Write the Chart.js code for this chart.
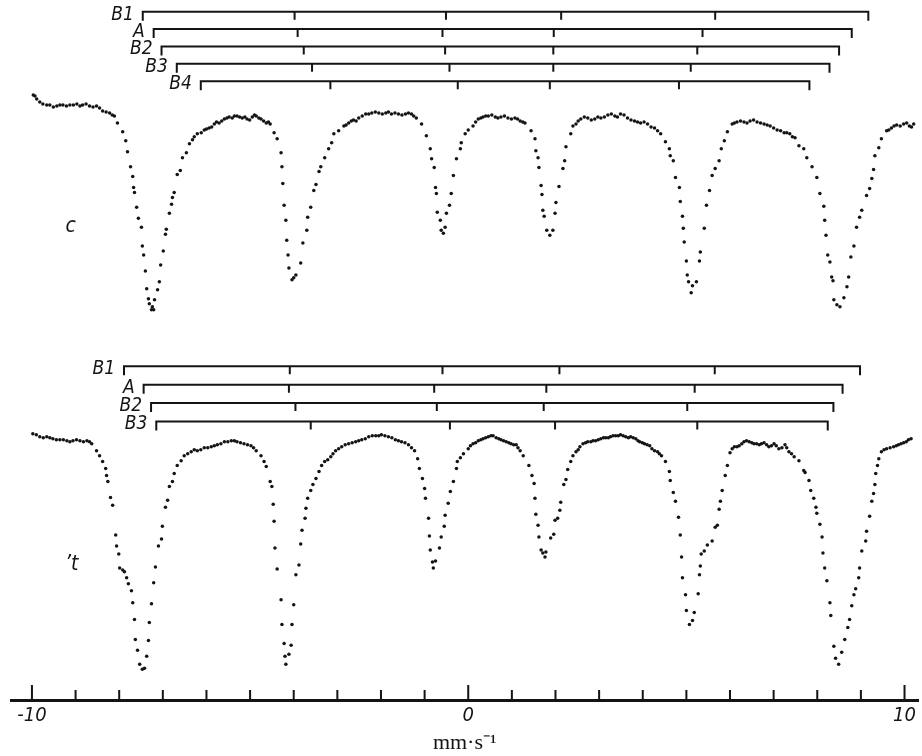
<!DOCTYPE html>
<html lang="en">
<head>
    <meta charset="UTF-8">
    <title>Mössbauer spectra c and t</title>
    <script src="https://cdn.jsdelivr.net/npm/chart.js"></script>
    <style>
        body { margin: 0; background: #fff; }
    </style>
</head>
<body>
    <canvas id="spectra" width="922" height="756"></canvas>
    <script>
// velocity axis, mm/s
const tickValues = [-10, -9, -8, -7, -6, -5, -4, -3, -2, -1, 0, 1, 2, 3, 4, 5, 6, 7, 8, 9, 10];
const labelledTicks = [-10, 0, 10];

// spectrum c: [velocity mm/s, relative transmission %]
const spectrumC = [
    [-9.93,100.5],[-9.89,100.2],[-9.82,99.9],[-9.75,99.7],[-9.59,99.6],[-9.43,99.5],[-9.29,99.6],
    [-9.13,99.6],[-8.97,99.7],[-8.84,99.6],[-8.68,99.5],[-8.52,99.5],[-8.45,99.3],[-8.38,99.0],
    [-8.22,98.8],[-8.11,98.5],[-8.04,97.8],[-7.92,96.9],[-7.85,96.0],[-7.81,94.9],[-7.74,93.4],
    [-7.69,92.4],[-7.67,91.3],[-7.65,90.8],[-7.60,89.3],[-7.56,88.2],[-7.49,87.3],[-7.47,85.4],
    [-7.44,84.5],[-7.40,82.9],[-7.37,81.1],[-7.33,80.1],[-7.31,79.6],[-7.26,79.0],[-7.24,79.3],
    [-7.21,79.0],[-7.19,80.0],[-7.12,81.0],[-7.08,81.8],[-7.05,83.5],[-6.99,84.9],[-6.94,86.6],
    [-6.92,87.1],[-6.85,88.7],[-6.80,89.6],[-6.78,90.3],[-6.74,90.8],[-6.67,92.6],[-6.60,93.0],
    [-6.55,94.3],[-6.46,94.8],[-6.39,95.7],[-6.32,96.1],[-6.28,96.4],[-6.21,96.7],[-6.12,96.8],
    [-6.05,97.1],[-5.94,97.3],[-5.82,97.7],[-5.71,97.8],[-5.59,98.2],[-5.48,98.4],[-5.41,98.3],
    [-5.30,98.5],[-5.18,98.3],[-5.07,98.2],[-4.95,98.4],[-4.86,98.5],[-4.75,98.2],[-4.63,97.8],
    [-4.54,97.7],[-4.45,96.8],[-4.38,96.2],[-4.29,94.8],[-4.27,93.4],[-4.25,91.7],[-4.22,89.5],
    [-4.18,88.0],[-4.16,86.0],[-4.13,84.5],[-4.11,83.2],[-4.04,82.0],[-4.00,82.2],[-3.95,82.5],
    [-3.84,83.7],[-3.79,85.7],[-3.70,87.0],[-3.68,88.3],[-3.61,89.3],[-3.54,91.0],[-3.49,91.6],
    [-3.42,92.9],[-3.38,93.4],[-3.29,94.3],[-3.20,95.2],[-3.13,95.8],[-3.08,96.7],[-2.97,97.0],
    [-2.85,97.5],[-2.74,97.8],[-2.63,98.1],[-2.51,98.3],[-2.35,98.7],[-2.21,98.8],[-2.05,98.8],
    [-1.89,98.8],[-1.76,98.7],[-1.60,98.7],[-1.44,98.7],[-1.30,98.7],[-1.19,98.3],[-1.07,97.7],
    [-0.96,96.5],[-0.87,95.2],[-0.84,94.2],[-0.78,93.3],[-0.75,91.3],[-0.73,90.7],[-0.71,88.8],
    [-0.64,88.0],[-0.62,87.0],[-0.57,86.7],[-0.53,87.3],[-0.50,88.7],[-0.43,89.5],[-0.39,90.7],
    [-0.34,92.5],[-0.27,94.2],[-0.18,95.2],[-0.16,95.8],[-0.07,96.7],[0.00,97.1],[0.11,97.5],
    [0.23,98.2],[0.34,98.4],[0.46,98.5],[0.62,98.4],[0.75,98.4],[0.91,98.3],[1.07,98.3],
    [1.19,98.0],[1.30,97.8],[1.44,97.0],[1.53,96.2],[1.55,95.0],[1.60,94.3],[1.62,93.3],
    [1.67,91.5],[1.69,90.6],[1.71,89.0],[1.74,88.4],[1.80,87.0],[1.87,86.5],[1.94,87.0],
    [1.99,88.7],[2.01,89.8],[2.08,91.4],[2.17,93.2],[2.21,94.0],[2.24,95.4],[2.35,96.7],
    [2.40,97.5],[2.47,97.7],[2.58,98.2],[2.74,98.3],[2.90,98.2],[3.04,98.3],[3.20,98.6],
    [3.36,98.5],[3.49,98.7],[3.65,98.3],[3.81,98.0],[3.95,97.8],[4.11,97.7],[4.27,97.3],
    [4.34,97.0],[4.41,96.7],[4.52,95.9],[4.61,95.2],[4.63,94.5],[4.70,94.0],[4.75,92.3],
    [4.84,91.3],[4.86,89.9],[4.91,88.4],[4.93,87.2],[4.95,85.8],[5.00,83.9],[5.02,82.5],
    [5.05,81.8],[5.14,81.4],[5.11,80.7],[5.23,81.8],[5.30,83.9],[5.32,84.8],[5.41,87.2],
    [5.46,89.5],[5.53,91.0],[5.59,92.5],[5.66,93.2],[5.75,94.0],[5.80,95.2],[5.87,96.0],
    [5.94,96.9],[6.05,97.7],[6.16,97.9],[6.32,97.9],[6.46,98.0],[6.62,97.9],[6.78,97.7],
    [6.92,97.5],[7.08,97.1],[7.24,96.8],[7.37,96.7],[7.49,96.3],[7.58,95.5],[7.69,95.2],
    [7.76,94.3],[7.88,93.4],[7.99,92.3],[8.06,90.7],[8.15,89.4],[8.17,88.0],[8.20,86.5],
    [8.24,84.5],[8.29,83.8],[8.33,82.3],[8.36,81.9],[8.38,80.0],[8.45,79.5],[8.52,79.3],
    [8.61,80.2],[8.68,81.3],[8.72,82.3],[8.77,84.3],[8.84,85.4],[8.90,87.3],[8.97,88.3],
    [9.02,89.0],[9.13,90.5],[9.20,91.2],[9.25,92.2],[9.29,93.1],[9.32,94.5],[9.41,95.3],
    [9.47,96.2],[9.59,97.0],[9.70,97.3],[9.82,97.6],[9.98,97.7],[10.11,97.5],[10.21,97.7],
    // extra plateau readings
    [-9.97,100.6],[-9.66,99.6],[-9.51,99.4],[-9.36,99.6],[-9.21,99.5],[-9.05,99.6],[-8.90,99.5],
    [-8.76,99.7],[-8.60,99.4],[-8.30,98.9],[-8.16,98.6],
    [-6.00,97.2],[-5.88,97.4],[-5.77,97.9],[-5.65,98.0],[-5.53,98.3],[-5.36,98.5],[-5.24,98.4],
    [-5.12,98.4],[-5.01,98.1],[-4.90,98.6],[-4.80,98.3],[-4.69,98.0],[-4.58,97.9],
    [-2.80,97.6],[-2.68,98.0],[-2.57,98.0],[-2.43,98.5],[-2.28,98.7],[-2.13,98.9],[-1.97,98.7],
    [-1.83,98.9],[-1.68,98.8],[-1.52,98.6],[-1.37,98.8],[-1.25,98.5],
    [0.17,97.9],[0.29,98.3],[0.40,98.5],[0.54,98.6],[0.68,98.3],[0.83,98.5],[0.99,98.2],
    [1.13,98.2],[1.25,97.9],
    [2.52,98.0],[2.66,98.4],[2.82,98.1],[2.97,98.4],[3.12,98.4],[3.28,98.7],[3.42,98.4],
    [3.57,98.6],[3.73,98.1],[3.88,97.9],[4.03,97.9],[4.19,97.4],
    [6.10,97.8],[6.24,98.0],[6.39,97.8],[6.54,98.1],[6.70,97.8],[6.85,97.6],[7.00,97.3],
    [7.16,97.0],[7.30,96.8],[7.43,96.4],
    [9.64,97.1],[9.76,97.5],[9.90,97.5],[10.05,97.8],[10.16,97.4]
];

// spectrum t: [velocity mm/s, relative transmission %]
const spectrumT = [
    [-9.98,100.0],[-9.82,99.7],[-9.66,99.7],[-9.52,99.5],[-9.36,99.4],[-9.20,99.3],[-9.06,99.3],
    [-8.90,99.3],[-8.74,99.3],[-8.63,99.0],[-8.52,98.3],[-8.45,97.8],[-8.38,97.2],[-8.31,96.5],
    [-8.29,95.8],[-8.26,95.2],[-8.20,93.6],[-8.15,92.8],[-8.08,89.8],[-8.06,88.7],[-8.01,87.9],
    [-7.99,86.5],[-7.92,86.3],[-7.88,86.1],[-7.83,85.5],[-7.79,84.9],[-7.72,84.2],[-7.69,83.0],
    [-7.65,81.3],[-7.63,79.3],[-7.58,78.2],[-7.53,76.8],[-7.47,76.3],[-7.42,76.4],[-7.37,77.6],
    [-7.33,79.2],[-7.31,81.0],[-7.26,82.9],[-7.21,85.0],[-7.17,86.6],[-7.10,88.7],[-7.03,89.4],
    [-7.01,90.7],[-6.94,92.6],[-6.89,93.3],[-6.85,94.7],[-6.78,95.2],[-6.74,96.0],[-6.67,96.8],
    [-6.58,97.3],[-6.51,97.8],[-6.35,98.2],[-6.21,98.3],[-6.05,98.6],[-5.89,98.7],[-5.75,98.9],
    [-5.59,99.2],[-5.43,99.3],[-5.30,99.2],[-5.14,99.0],[-4.98,98.8],[-4.86,98.3],[-4.75,97.8],
    [-4.68,97.2],[-4.63,96.7],[-4.54,95.2],[-4.50,94.7],[-4.47,92.9],[-4.45,91.2],[-4.43,88.5],
    [-4.38,86.4],[-4.29,83.3],[-4.27,80.8],[-4.22,78.9],[-4.20,77.6],[-4.18,76.8],[-4.11,77.8],
    [-4.06,78.7],[-4.04,80.8],[-4.00,82.8],[-3.95,85.8],[-3.88,86.8],[-3.84,88.9],[-3.81,90.3],
    [-3.74,91.5],[-3.72,92.5],[-3.68,93.5],[-3.61,94.3],[-3.56,94.9],[-3.49,95.5],[-3.42,96.2],
    [-3.36,96.8],[-3.29,97.2],[-3.15,97.7],[-3.04,98.3],[-2.90,98.7],[-2.74,99.0],[-2.58,99.2],
    [-2.44,99.4],[-2.28,99.7],[-2.12,99.8],[-1.99,99.9],[-1.83,99.7],[-1.67,99.4],[-1.53,99.2],
    [-1.37,98.9],[-1.23,98.3],[-1.16,97.5],[-1.12,96.5],[-1.05,95.5],[-1.00,94.5],[-0.98,93.5],
    [-0.91,91.5],[-0.89,89.7],[-0.87,88.3],[-0.82,87.1],[-0.80,86.5],[-0.75,87.2],[-0.66,88.5],
    [-0.62,89.6],[-0.55,90.7],[-0.53,91.8],[-0.46,93.0],[-0.41,94.2],[-0.34,95.2],[-0.27,96.5],
    [-0.25,97.2],[-0.18,97.6],[-0.11,98.0],[0.00,98.5],[0.11,99.0],[0.23,99.3],[0.34,99.5],
    [0.46,99.7],[0.57,99.8],[0.64,99.6],[0.75,99.4],[0.87,99.2],[0.98,99.0],[1.10,98.9],
    [1.19,98.3],[1.26,97.8],[1.39,96.8],[1.46,95.8],[1.51,95.0],[1.53,93.5],[1.55,91.9],
    [1.60,90.8],[1.62,89.6],[1.67,88.3],[1.71,88.0],[1.76,87.6],[1.78,88.1],[1.89,89.5],
    [1.96,89.9],[1.99,91.3],[2.05,91.5],[2.10,92.3],[2.12,93.1],[2.19,94.9],[2.24,95.4],
    [2.28,96.4],[2.35,97.2],[2.40,97.8],[2.47,98.2],[2.56,98.7],[2.63,99.0],[2.74,99.2],
    [2.81,99.2],[2.92,99.3],[3.04,99.5],[3.15,99.6],[3.26,99.7],[3.38,99.8],[3.49,99.9],
    [3.61,99.7],[3.72,99.7],[3.84,99.5],[3.93,99.2],[4.04,99.0],[4.16,98.8],[4.27,98.3],
    [4.34,98.2],[4.43,97.8],[4.52,97.2],[4.61,96.2],[4.63,95.3],[4.70,94.1],[4.75,93.2],
    [4.82,91.6],[4.86,89.8],[4.89,87.6],[4.91,85.5],[4.98,83.8],[5.00,82.2],[5.07,80.8],
    [5.14,81.2],[5.18,82.0],[5.27,83.9],[5.30,85.8],[5.32,86.7],[5.34,87.9],[5.41,88.2],
    [5.48,88.8],[5.59,89.2],[5.66,90.6],[5.71,90.8],[5.75,92.4],[5.78,93.2],[5.82,94.3],
    [5.89,95.8],[5.94,96.8],[6.00,98.1],[6.10,98.7],[6.21,98.8],[6.32,99.2],[6.44,99.2],
    [6.55,99.0],[6.67,98.9],[6.78,99.1],[6.89,98.7],[7.01,99.0],[7.12,98.5],[7.26,98.9],
    [7.35,98.2],[7.47,97.7],[7.58,97.3],[7.69,96.3],[7.72,96.1],[7.81,95.3],[7.85,94.3],
    [7.92,93.5],[7.97,92.6],[7.99,92.0],[8.06,90.9],[8.11,89.6],[8.13,88.0],[8.17,86.5],
    [8.22,85.2],[8.29,83.0],[8.31,81.7],[8.38,78.6],[8.42,77.4],[8.49,76.8],[8.56,78.0],
    [8.63,79.3],[8.70,80.5],[8.74,81.3],[8.79,82.7],[8.84,83.8],[8.88,84.4],[8.95,85.5],
    [8.97,86.5],[9.02,88.2],[9.11,89.2],[9.13,90.2],[9.20,91.7],[9.25,93.2],[9.29,94.0],
    [9.32,94.9],[9.34,96.0],[9.38,96.8],[9.41,97.5],[9.47,98.2],[9.59,98.5],[9.75,98.7],
    [9.86,98.9],[9.98,99.1],[10.09,99.4],
    // extra plateau readings
    [-9.90,99.9],[-9.74,99.6],[-9.59,99.6],[-9.44,99.4],[-9.28,99.4],[-9.13,99.2],[-8.98,99.4],
    [-8.82,99.2],[-8.68,99.2],
    [-6.43,98.0],[-6.28,98.4],[-6.13,98.4],[-5.97,98.6],[-5.82,98.8],[-5.67,99.0],[-5.51,99.2],
    [-5.36,99.3],[-5.22,99.1],[-5.06,98.9],[-4.92,98.6],
    [-3.22,97.4],[-3.10,98.0],[-2.97,98.5],[-2.82,98.9],[-2.66,99.1],[-2.51,99.3],[-2.36,99.5],
    [-2.20,99.8],[-2.05,99.8],[-1.91,99.8],[-1.75,99.6],[-1.60,99.3],[-1.45,99.1],[-1.30,98.6],
    [0.05,98.8],[0.17,99.1],[0.29,99.4],[0.40,99.6],[0.52,99.8],[0.70,99.5],[0.81,99.3],
    [0.93,99.1],[1.04,98.9],[1.14,98.6],
    [2.52,98.4],[2.69,99.1],[2.86,99.3],[2.98,99.4],[3.10,99.6],[3.21,99.6],[3.32,99.8],
    [3.44,99.8],[3.55,99.8],[3.67,99.6],[3.78,99.6],[3.89,99.3],[3.99,99.1],[4.10,98.9],
    [4.21,98.5],[4.38,98.0],
    [6.05,98.5],[6.16,98.7],[6.27,99.0],[6.38,99.3],[6.50,99.1],[6.61,99.0],[6.72,99.0],
    [6.84,98.9],[6.95,98.8],[7.06,98.8],[7.19,98.6],[7.30,98.6],[7.41,98.0],
    [9.53,98.4],[9.67,98.6],[9.81,98.8],[9.92,99.0],[10.04,99.2],[10.15,99.5]
];

// line positions (mm/s) of the sextets fitted to c
const stickNamesC = ['B1', 'A', 'B2', 'B3', 'B4'];
const sticksC = [
    [-7.46, -3.98, -0.51, 2.13, 5.66, 9.17],
    [-7.21, -3.91, -0.59, 1.96, 5.37, 8.79],
    [-7.03, -3.77, -0.53, 1.95, 5.25, 8.50],
    [-6.68, -3.58, -0.43, 1.95, 5.10, 8.28],
    [-6.13, -3.16, -0.24, 1.87, 4.83, 7.82]
];

// line positions (mm/s) of the sextets fitted to t
const stickNamesT = ['B1', 'A', 'B2', 'B3'];
const sticksT = [
    [-7.89, -4.09, -0.59, 2.09, 5.65, 8.98],
    [-7.44, -4.11, -0.78, 1.79, 5.19, 8.58],
    [-7.27, -3.96, -0.72, 1.73, 5.02, 8.37],
    [-7.15, -3.61, -0.42, 1.99, 5.25, 8.24]
];

const spectrumLabels = ['c', '\u2019t'];

const ink = '#141414';
const italicFont = "'DejaVu Sans Condensed', 'DejaVu Sans', sans-serif";

// stick diagrams + spectrum letters, placed through the scales
const sticksPlugin = {
    id: 'sticks',
    afterDatasetsDraw(chart) {
        const { ctx, scales } = chart;
        const x = scales.x;
        const blocks = [
            { axis: 'yC', names: stickNamesC, rows: sticksC, top: 109, step: 1.75 },
            { axis: 'yT', names: stickNamesT, rows: sticksT, top: 106.8, step: 1.85 }
        ];
        ctx.save();
        ctx.strokeStyle = ink;
        ctx.fillStyle = ink;
        ctx.lineWidth = 2;
        ctx.font = 'italic 19px ' + italicFont;
        ctx.textAlign = 'right';
        ctx.textBaseline = 'middle';
        blocks.forEach(b => {
            const ys = scales[b.axis];
            b.rows.forEach((row, i) => {
                const yy = ys.getPixelForValue(b.top - i * b.step);
                const px = row.map(v => x.getPixelForValue(v));
                ctx.beginPath();
                ctx.moveTo(px[0], yy + 9);
                ctx.lineTo(px[0], yy);
                ctx.lineTo(px[5], yy);
                ctx.lineTo(px[5], yy + 9);
                for (let k = 1; k < 5; k++) {
                    ctx.moveTo(px[k], yy);
                    ctx.lineTo(px[k], yy + 8);
                }
                ctx.stroke();
                ctx.fillText(b.names[i], px[0] - 9, yy + 3);
            });
        });
        // spectrum letters
        ctx.font = 'italic 21px ' + italicFont;
        ctx.textAlign = 'center';
        ctx.fillText(spectrumLabels[0], x.getPixelForValue(-9.11), scales.yC.getPixelForValue(87.4));
        ctx.fillText(spectrumLabels[1], x.getPixelForValue(-9.09), scales.yT.getPixelForValue(86.8));

        // velocity ticks pointing up from the axis
        const base = x.top;
        ctx.lineWidth = 2;
        ctx.beginPath();
        tickValues.forEach(v => {
            const px = x.getPixelForValue(v);
            const len = labelledTicks.includes(v) ? 15 : 10;
            ctx.moveTo(px, base);
            ctx.lineTo(px, base - len);
        });
        ctx.stroke();
        ctx.restore();
    }
};

const dotStyle = {
    showLine: false,
    pointRadius: 1.75,
    pointHoverRadius: 1.75,
    pointBorderWidth: 0,
    pointBackgroundColor: ink
};

new Chart(document.getElementById('spectra').getContext('2d'), {
    type: 'scatter',
    data: {
        datasets: [
            Object.assign({ label: 'c', yAxisID: 'yC', data: spectrumC.map(p => ({ x: p[0], y: p[1] })) }, dotStyle),
            Object.assign({ label: 't', yAxisID: 'yT', data: spectrumT.map(p => ({ x: p[0], y: p[1] })) }, dotStyle)
        ]
    },
    options: {
        responsive: false,
        animation: false,
        devicePixelRatio: 1,
        layout: { padding: { left: 11, right: 0, top: 0, bottom: 0 } },
        plugins: { legend: { display: false }, tooltip: { enabled: false } },
        scales: {
            x: {
                type: 'linear',
                min: -10.48,
                max: 10.32,
                afterBuildTicks: s => { s.ticks = tickValues.map(v => ({ value: v })); },
                grid: { drawOnChartArea: false, drawTicks: false },
                border: { display: true, color: ink, width: 3 },
                ticks: {
                    autoSkip: false,
                    maxRotation: 0,
                    padding: 6,
                    color: ink,
                    font: { family: italicFont, size: 20, style: 'italic', lineHeight: 1 },
                    callback: v => labelledTicks.includes(v) ? (v < 0 ? '-' + Math.abs(v) : String(v)) : ''
                },
                title: {
                    display: true,
                    text: 'mm\u00b7s\u207b\u00b9',
                    color: ink,
                    padding: { top: 0, bottom: 2 },
                    font: { family: "'Liberation Serif', serif", size: 22, lineHeight: 1 }
                }
            },
            yC: { type: 'linear', display: false, min: 39.7, max: 110 },
            yT: { type: 'linear', display: false, min: 73.2, max: 143.5 }
        }
    },
    plugins: [sticksPlugin]
});
    </script>
</body>
</html>
